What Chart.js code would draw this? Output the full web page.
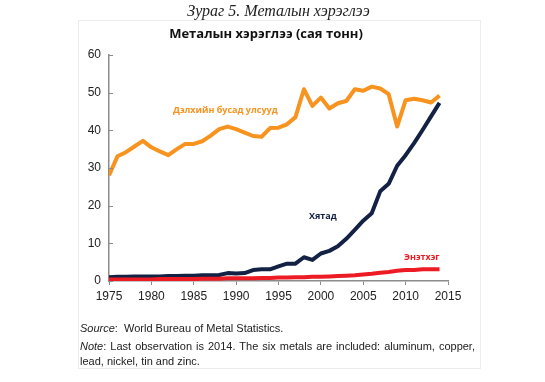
<!DOCTYPE html>
<html>
<head>
<meta charset="utf-8">
<script src="https://cdn.jsdelivr.net/npm/chart.js@4.4.1/dist/chart.umd.min.js"></script>
<style>
  body { margin: 0; background: #fff; }
  #wrap { position: relative; width: 545px; height: 382px; overflow: hidden; }
  #frame { position: absolute; left: 78px; top: 20px; width: 401px; height: 347px; border: 1px solid #ececec; }
  canvas { position: absolute; left: 0; top: 0; }
  .txt { position: absolute; white-space: nowrap; }
  #caption { left: 0; width: 557px; top: 2px; text-align: center; font: italic 16px "Liberation Serif", serif; color: #222; }
  #title { left: 0; width: 532px; top: 24px; text-align: center; font: bold 13px "Open Sans", sans-serif; color: #111; }
  .lbl { font: bold 9px "Open Sans", sans-serif; }
  #notes { position: absolute; left: 80px; top: 321px; width: 395px; font: 11px "Liberation Sans", Arial, sans-serif; color: #222; line-height: 15px; }
  #notes .j { text-align: justify; text-align-last: justify; }
</style>
</head>
<body>
<div id="wrap">
  <div id="frame"></div>
  <canvas id="metalChart" width="545" height="382"></canvas>
  <div class="txt" id="caption">Зураг 5. Металын хэрэглээ</div>
  <div class="txt" id="title">Металын хэрэглээ (сая тонн)</div>
  <div class="txt lbl" style="left:173px; top:103px; color:#f7931e;">Дэлхийн бусад улсууд</div>
  <div class="txt lbl" style="left:309px; top:209px; color:#132145;">Хятад</div>
  <div class="txt lbl" style="left:404px; top:250px; color:#ed1c24;">Энэтхэг</div>
  <div id="notes">
    <div><i>Source</i>:&nbsp; World Bureau of Metal Statistics.</div>
    <div class="j" style="margin-top:3px;"><i>Note</i>: Last observation is 2014. The six metals are included: aluminum, copper,</div>
    <div>lead, nickel, tin and zinc.</div>
  </div>
</div>
<script>
  const years = [];
  for (let y = 1975; y <= 2014; y++) years.push(y);

  const restOfWorld = [28, 33.1, 34.2, 35.7, 37.2, 35.5, 34.4, 33.4, 35, 36.4,
    36.4, 37.1, 38.6, 40.3, 41, 40.3, 39.4, 38.5, 38.3, 40.6,
    40.7, 41.6, 43.5, 50.9, 46.5, 48.7, 45.8, 47.2, 47.8, 50.9,
    50.5, 51.6, 51.1, 49.6, 41, 48, 48.4, 48, 47.4, 49.2];

  const china = [1.0, 1.1, 1.1, 1.2, 1.2, 1.2, 1.2, 1.3, 1.3, 1.4,
    1.4, 1.5, 1.5, 1.6, 2.1, 2.0, 2.1, 2.9, 3.1, 3.1,
    3.9, 4.6, 4.6, 6.3, 5.6, 7.3, 8.0, 9.2, 11.2, 13.6,
    16.0, 18.0, 23.8, 25.8, 30.6, 33.4, 36.6, 40.1, 43.7, 47.3];

  const india = [0.4, 0.4, 0.4, 0.4, 0.4, 0.4, 0.5, 0.5, 0.5, 0.5,
    0.5, 0.6, 0.6, 0.6, 0.7, 0.7, 0.7, 0.7, 0.8, 0.8,
    0.9, 0.9, 1.0, 1.0, 1.1, 1.1, 1.2, 1.3, 1.4, 1.5,
    1.7, 1.9, 2.2, 2.4, 2.7, 2.9, 2.9, 3.1, 3.1, 3.1];

  const xTicks = [1975, 1980, 1985, 1990, 1995, 2000, 2005, 2010, 2015];
  const yTicks = [0, 10, 20, 30, 40, 50, 60];

  function toPoints(values) {
    return values.map((v, i) => ({ x: years[i], y: v }));
  }

  // small inward tick marks on the y axis
  const yTickMarks = {
    id: "yTickMarks",
    afterDatasetsDraw(chart) {
      const ctx = chart.ctx;
      const yScale = chart.scales.y;
      const left = chart.chartArea.left;
      ctx.save();
      ctx.strokeStyle = "#8c8c8c";
      ctx.lineWidth = 1;
      yTicks.forEach((t) => {
        const py = Math.round(yScale.getPixelForValue(t)) + 0.5;
        ctx.beginPath();
        ctx.moveTo(left, py);
        ctx.lineTo(left + 4, py);
        ctx.stroke();
      });
      ctx.restore();
    },
  };

  const ctx = document.getElementById("metalChart").getContext("2d");
  new Chart(ctx, {
    type: "line",
    data: {
      datasets: [
        { label: "Энэтхэг", data: toPoints(india), borderColor: "#ed1c24", borderWidth: 4 },
        { label: "Хятад", data: toPoints(china), borderColor: "#132145", borderWidth: 4 },
        { label: "Дэлхийн бусад улсууд", data: toPoints(restOfWorld), borderColor: "#f7931e", borderWidth: 4 },
      ],
    },
    options: {
      responsive: false,
      animation: false,
      elements: { point: { radius: 0 }, line: { tension: 0, borderJoinStyle: "round", borderCapStyle: "butt" } },
      layout: { padding: { left: 79, right: 97, top: 55, bottom: 76 } },
      plugins: { legend: { display: false }, tooltip: { enabled: false } },
      scales: {
        x: {
          type: "linear",
          min: 1975,
          max: 2015,
          afterBuildTicks: (scale) => { scale.ticks = xTicks.map((v) => ({ value: v })); },
          afterFit: (scale) => { scale.height = 25; },
          grid: { display: true, drawOnChartArea: false, drawTicks: true, tickLength: 4, color: "#8c8c8c" },
          border: { display: true, color: "#8c8c8c", width: 1.5 },
          ticks: {
            color: "#222",
            font: { family: "Liberation Sans", size: 12 },
            padding: 4,
            maxRotation: 0,
            callback: (v) => String(v),
          },
        },
        y: {
          min: 0,
          max: 60,
          afterBuildTicks: (scale) => { scale.ticks = yTicks.map((v) => ({ value: v })); },
          afterFit: (scale) => { scale.width = 30; },
          grid: { display: false, drawTicks: false },
          border: { display: true, color: "#8c8c8c", width: 1.5 },
          ticks: {
            color: "#222",
            font: { family: "Liberation Sans", size: 12 },
            padding: 8,
          },
        },
      },
    },
    plugins: [yTickMarks],
  });
</script>
</body>
</html>
